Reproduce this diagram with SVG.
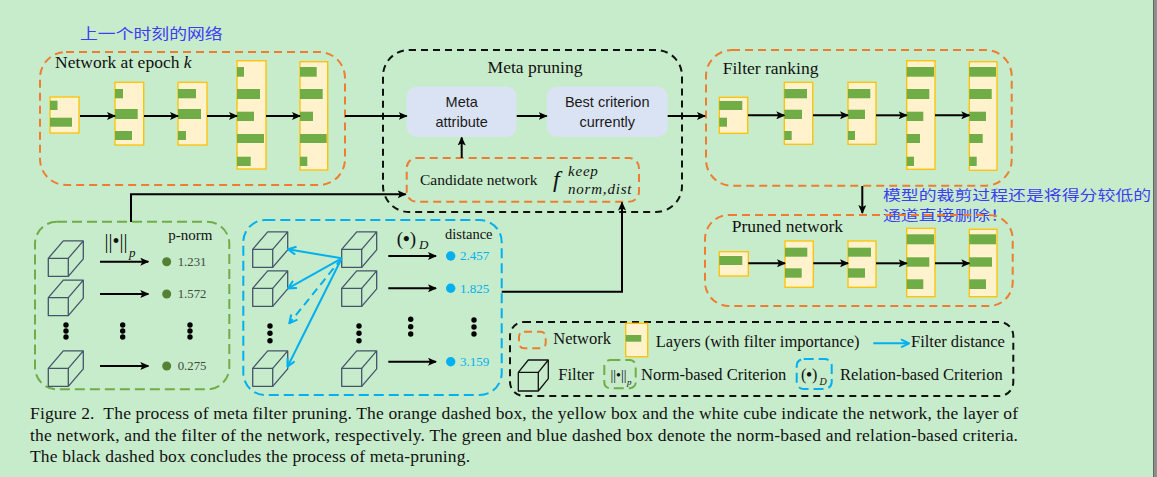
<svg xmlns="http://www.w3.org/2000/svg" xmlns:xlink="http://www.w3.org/1999/xlink" width="1157" height="477" viewBox="0 0 1157 477">
<style>
.orng{fill:none;stroke:#ED7D31;stroke-width:2;stroke-dasharray:8 5}
.blk{fill:none;stroke:#111;stroke-width:2;stroke-dasharray:7 5}
.grn{fill:none;stroke:#70AD47;stroke-width:2;stroke-dasharray:10 5}
.blu{fill:none;stroke:#00B0F0;stroke-width:2;stroke-dasharray:10 5}
.layer{fill:#FFF2CC;stroke:#FFC000;stroke-width:1.3}
.bar{fill:#70AD47}
.arr{fill:none;stroke:#000;stroke-width:2;marker-end:url(#ah)}
.barr{fill:none;stroke:#00B0F0;stroke-width:2;marker-end:url(#bh)}
.cube{fill:none;stroke:#44546A;stroke-width:1.3;stroke-linejoin:round}
.meta{fill:#DAE3F3}
.t{font-family:"Liberation Serif","Times New Roman",serif;fill:#111}
.s{font-family:"Liberation Sans",Arial,sans-serif;fill:#1a1a1a;text-anchor:middle;font-size:14.5px}
.cn{font-family:"Noto Sans CJK SC",sans-serif;fill:#3D3DF2;font-size:14.5px}
.gv{font-family:"Liberation Serif",serif;fill:#3F4A3F;font-size:12.8px}
.bv{font-family:"Liberation Serif",serif;fill:#00B0F0;font-size:13px}
.dot{fill:#000}
</style>
<defs>
<marker id="ah" markerUnits="userSpaceOnUse" markerWidth="9" markerHeight="8" refX="8" refY="4" orient="auto">
<path d="M0,0 L9,4 L0,8 L2,4 z" fill="#000"/>
</marker>
<marker id="bh" markerUnits="userSpaceOnUse" markerWidth="10" markerHeight="10" refX="9" refY="5" orient="auto">
<path d="M1,1 L9,5 L1,9" fill="none" stroke="#00B0F0" stroke-width="2"/>
</marker>
<g id="cube" class="cube">
<rect x="0" y="0" width="20" height="18"/>
<path d="M0,0 L15,-17.5 L35,-17.5 L20,0 M35,-17.5 L35,0.5 L20,18"/>
</g>
</defs>
<rect width="1157" height="477" fill="#C7ECCB"/>
<rect x="1153" y="0" width="4" height="477" fill="#8F8F8F"/>
<line x1="1153.5" y1="0" x2="1153.5" y2="477" stroke="#666" stroke-width="1"/>

<text class="cn" x="80" y="39" textLength="142.7" lengthAdjust="spacingAndGlyphs">上一个时刻的网络</text>

<g id="network-epoch-k">
<rect class="orng" x="40" y="52" width="305" height="133" rx="26"/>
<text class="t" x="55" y="68" font-size="17.5">Network at epoch <tspan font-style="italic">k</tspan></text>
<rect class="layer" x="50" y="97" width="29" height="36"/>
<rect class="bar" x="50" y="100.7" width="7.5" height="9.3"/>
<rect class="bar" x="50" y="117.7" width="22" height="9"/>
<rect class="layer" x="115" y="82.3" width="28.7" height="62.7"/>
<rect class="bar" x="115" y="89" width="8" height="9.3"/>
<rect class="bar" x="115" y="109" width="22.7" height="10"/>
<rect class="bar" x="115" y="131" width="17" height="9"/>
<rect class="layer" x="178" y="82.3" width="29" height="62.7"/>
<rect class="bar" x="178" y="89" width="18" height="9.3"/>
<rect class="bar" x="178" y="109" width="23" height="10"/>
<rect class="bar" x="178" y="131" width="8" height="9"/>
<rect class="layer" x="237" y="60.7" width="29" height="108.3"/>
<rect class="bar" x="237" y="67" width="7" height="9.7"/>
<rect class="bar" x="237" y="89" width="23" height="10"/>
<rect class="bar" x="237" y="111.7" width="17" height="9.3"/>
<rect class="bar" x="237" y="134" width="27" height="9"/>
<rect class="bar" x="237" y="156.7" width="13.7" height="9.3"/>
<rect class="layer" x="300" y="61.7" width="27.7" height="108.3"/>
<rect class="bar" x="300" y="67" width="16.7" height="9.7"/>
<rect class="bar" x="300" y="89" width="22.7" height="10"/>
<rect class="bar" x="300" y="111.7" width="13" height="9.3"/>
<rect class="bar" x="300" y="134" width="26.7" height="9"/>
<rect class="bar" x="300" y="156.7" width="7.3" height="9.3"/>
<line class="arr" x1="80" y1="116" x2="115" y2="116"/>
<line class="arr" x1="144" y1="116" x2="178" y2="116"/>
<line class="arr" x1="207" y1="116" x2="237" y2="116"/>
<line class="arr" x1="266" y1="116" x2="300" y2="116"/>
</g>

<g id="meta-pruning">
<rect class="blk" x="383" y="50" width="299" height="162" rx="26"/>
<text class="t" x="535" y="73" font-size="17.5" text-anchor="middle">Meta pruning</text>
</g>
<g id="meta-attribute">
<rect class="meta" x="406.7" y="86.7" width="110" height="50" rx="10"/>
<text class="s" x="461.7" y="107">Meta</text>
<text class="s" x="461.7" y="126.5">attribute</text>
</g>
<g id="best-criterion">
<rect class="meta" x="546.7" y="86.7" width="121" height="50" rx="10"/>
<text class="s" x="607.2" y="107">Best criterion</text>
<text class="s" x="607.2" y="126.5">currently</text>
</g>
<g id="candidate-network">
<rect class="orng" x="406.7" y="158" width="232.3" height="43.7" rx="10"/>
<text class="t" x="420" y="185" font-size="15.5">Candidate network</text>
<text class="t" x="553" y="187" font-size="24" font-style="italic">f</text>
<text class="t" x="568" y="176" font-size="15" font-style="italic" letter-spacing="0.8">keep</text>
<text class="t" x="568" y="194" font-size="15" font-style="italic" letter-spacing="0.8">norm,dist</text>
</g>

<g id="filter-ranking">
<rect class="orng" x="706" y="50" width="305.7" height="135.7" rx="26"/>
<text class="t" x="722.7" y="74.3" font-size="17.5">Filter ranking</text>
<rect class="layer" x="719.3" y="97.3" width="28.4" height="36"/>
<rect class="bar" x="719.3" y="101" width="23" height="9"/>
<rect class="bar" x="719.3" y="117.7" width="7.7" height="9"/>
<rect class="layer" x="784.3" y="82.3" width="28.4" height="62"/>
<rect class="bar" x="784.3" y="89" width="22.7" height="9.3"/>
<rect class="bar" x="784.3" y="109.7" width="17.7" height="9.3"/>
<rect class="bar" x="784.3" y="131" width="7.4" height="9"/>
<rect class="layer" x="848" y="82.3" width="28" height="62"/>
<rect class="bar" x="848" y="89" width="22.3" height="9.3"/>
<rect class="bar" x="848" y="109.7" width="17" height="9.3"/>
<rect class="bar" x="848" y="131" width="7" height="9"/>
<rect class="layer" x="906.7" y="60.7" width="28.3" height="108.6"/>
<rect class="bar" x="906.7" y="67" width="27.3" height="9.7"/>
<rect class="bar" x="906.7" y="89" width="22.6" height="10"/>
<rect class="bar" x="906.7" y="111.7" width="16.6" height="9.3"/>
<rect class="bar" x="906.7" y="134" width="13.3" height="9"/>
<rect class="bar" x="906.7" y="156.7" width="7.3" height="9.3"/>
<rect class="layer" x="969.3" y="61.7" width="27.7" height="108.6"/>
<rect class="bar" x="969.3" y="67" width="26.7" height="9.7"/>
<rect class="bar" x="969.3" y="89" width="22.4" height="10"/>
<rect class="bar" x="969.3" y="111.7" width="16.7" height="9.3"/>
<rect class="bar" x="969.3" y="134" width="13.4" height="9"/>
<rect class="bar" x="969.3" y="156.7" width="7.4" height="9.3"/>
<line class="arr" x1="748" y1="115.3" x2="784.3" y2="115.3"/>
<line class="arr" x1="813" y1="115.3" x2="848" y2="115.3"/>
<line class="arr" x1="876" y1="115.3" x2="906.7" y2="115.3"/>
<line class="arr" x1="935" y1="115.3" x2="969.3" y2="115.3"/>
</g>

<text class="cn" x="883" y="199.8" font-size="14" style="font-size:14px" textLength="268" lengthAdjust="spacingAndGlyphs">模型的裁剪过程还是将得分较低的</text>
<text class="cn" x="883" y="220.3" font-size="14" style="font-size:14px" textLength="125" lengthAdjust="spacingAndGlyphs">通道直接删除！</text>

<g id="pruned-network">
<rect class="orng" x="705" y="215" width="307.7" height="91" rx="24"/>
<text class="t" x="731.7" y="231.7" font-size="17.5">Pruned network</text>
<rect class="layer" x="719.3" y="251.7" width="29" height="24.3"/>
<rect class="bar" x="719.3" y="256" width="23" height="9"/>
<rect class="layer" x="785" y="241" width="28.3" height="46.3"/>
<rect class="bar" x="785" y="247.7" width="22.3" height="9"/>
<rect class="bar" x="785" y="268.3" width="16.7" height="9.4"/>
<rect class="layer" x="848" y="241" width="28" height="46.3"/>
<rect class="bar" x="848" y="247.7" width="23" height="9"/>
<rect class="bar" x="848" y="268.3" width="17" height="9.4"/>
<rect class="layer" x="906.7" y="228.3" width="28.3" height="68.4"/>
<rect class="bar" x="906.7" y="234.3" width="27.3" height="10"/>
<rect class="bar" x="906.7" y="257.3" width="22.6" height="9.4"/>
<rect class="bar" x="906.7" y="279.3" width="16.6" height="9.7"/>
<rect class="layer" x="969.3" y="229.3" width="27.7" height="67.4"/>
<rect class="bar" x="969.3" y="234.3" width="26.7" height="10"/>
<rect class="bar" x="969.3" y="257.3" width="22.7" height="9.4"/>
<rect class="bar" x="969.3" y="279.3" width="16.7" height="9.7"/>
<line class="arr" x1="748.3" y1="263.3" x2="785" y2="263.3"/>
<line class="arr" x1="813.3" y1="263.3" x2="848" y2="263.3"/>
<line class="arr" x1="876" y1="263.3" x2="906.7" y2="263.3"/>
<line class="arr" x1="935" y1="263.3" x2="969.3" y2="263.3"/>
</g>

<g id="norm-criterion">
<rect class="grn" x="35" y="221.7" width="194.3" height="167.6" rx="22"/>
<use xlink:href="#cube" href="#cube" x="48.3" y="258.3"/>
<use xlink:href="#cube" href="#cube" x="48.3" y="297.7"/>
<use xlink:href="#cube" href="#cube" x="48.3" y="368.3"/>
<text class="t" x="104.5" y="247.5" font-size="20">||•||</text>
<text class="t" x="129" y="257" font-size="13" font-style="italic">p</text>
<text class="t" x="168.3" y="240" font-size="15">p-norm</text>
<line class="arr" x1="100" y1="261.7" x2="148.3" y2="261.7"/>
<line class="arr" x1="100" y1="294" x2="148.3" y2="294"/>
<line class="arr" x1="100" y1="366" x2="148.3" y2="366"/>
<circle cx="166.7" cy="261.7" r="4.5" fill="#548235"/>
<circle cx="166.7" cy="294" r="4.5" fill="#548235"/>
<circle cx="166.7" cy="366" r="4.5" fill="#548235"/>
<text class="gv" x="177.7" y="266">1.231</text>
<text class="gv" x="177.7" y="298.3">1.572</text>
<text class="gv" x="177.7" y="370.3">0.275</text>
<circle class="dot" cx="66" cy="325" r="2.7"/><circle class="dot" cx="66" cy="331" r="2.7"/><circle class="dot" cx="66" cy="337" r="2.7"/>
<circle class="dot" cx="122.7" cy="325" r="2.7"/><circle class="dot" cx="122.7" cy="331" r="2.7"/><circle class="dot" cx="122.7" cy="337" r="2.7"/>
<circle class="dot" cx="190" cy="325" r="2.7"/><circle class="dot" cx="190" cy="331" r="2.7"/><circle class="dot" cx="190" cy="337" r="2.7"/>
</g>

<g id="relation-criterion">
<rect class="blu" x="243.3" y="220" width="258.4" height="175" rx="22"/>
<use xlink:href="#cube" href="#cube" x="252.7" y="249.3"/>
<use xlink:href="#cube" href="#cube" x="252.7" y="288.3"/>
<use xlink:href="#cube" href="#cube" x="252.7" y="368.3"/>
<use xlink:href="#cube" href="#cube" x="341.7" y="249.3"/>
<use xlink:href="#cube" href="#cube" x="341.7" y="288.3"/>
<use xlink:href="#cube" href="#cube" x="341.7" y="368.3"/>
<text class="t" x="396.7" y="245" font-size="19">(<tspan font-weight="bold">•</tspan>)</text>
<text class="t" x="419" y="249" font-size="13" font-style="italic">D</text>
<text class="t" x="445" y="239.3" font-size="14.5">distance</text>
<line class="arr" x1="388.3" y1="256" x2="436" y2="256"/>
<line class="arr" x1="388.3" y1="288.3" x2="436" y2="288.3"/>
<line class="arr" x1="388.3" y1="361.7" x2="436" y2="361.7"/>
<circle cx="450.7" cy="256" r="4.7" fill="#00B0F0"/>
<circle cx="450.7" cy="288.3" r="4.7" fill="#00B0F0"/>
<circle cx="450.7" cy="361.7" r="4.7" fill="#00B0F0"/>
<text class="bv" x="460" y="260.3">2.457</text>
<text class="bv" x="460" y="292.6">1.825</text>
<text class="bv" x="460" y="366">3.159</text>
<circle class="dot" cx="270" cy="326" r="2.7"/><circle class="dot" cx="270" cy="333.3" r="2.7"/><circle class="dot" cx="270" cy="340.7" r="2.7"/>
<circle class="dot" cx="359" cy="326" r="2.7"/><circle class="dot" cx="359" cy="333.3" r="2.7"/><circle class="dot" cx="359" cy="340.7" r="2.7"/>
<circle class="dot" cx="410.7" cy="319.3" r="2.7"/><circle class="dot" cx="410.7" cy="326.7" r="2.7"/><circle class="dot" cx="410.7" cy="334" r="2.7"/>
<circle class="dot" cx="474" cy="320" r="2.7"/><circle class="dot" cx="474" cy="327" r="2.7"/><circle class="dot" cx="474" cy="334" r="2.7"/>
</g>

<g id="connectors">
<line class="arr" x1="345" y1="116" x2="406.7" y2="116"/>
<line class="arr" x1="516.7" y1="116" x2="546.7" y2="116"/>
<line class="arr" x1="667.7" y1="116" x2="705" y2="116"/>
<line class="arr" x1="461.7" y1="158" x2="461.7" y2="137.5"/>
<polyline class="arr" points="131,222 131,194.3 405.7,194.3"/>
<polyline class="arr" points="501.7,291.7 622,291.7 622,202.5"/>
<line class="arr" x1="862.3" y1="186" x2="862.3" y2="213"/>
<line class="barr" x1="341.7" y1="258.3" x2="288" y2="249.3"/>
<line class="barr" x1="341.7" y1="258.3" x2="288" y2="288.3"/>
<line class="barr" x1="341.7" y1="258.3" x2="289.3" y2="323.3" stroke-dasharray="8 5"/>
<line class="barr" x1="341.7" y1="258.3" x2="287.5" y2="366.7"/>
</g>

<g id="legend">
<rect class="blk" x="510" y="322" width="503.3" height="74" rx="14"/>
<rect class="orng" x="519" y="331.7" width="26.7" height="16.6" rx="5"/>
<text class="t" x="553.3" y="344.3" font-size="16.5">Network</text>
<rect class="layer" x="625.7" y="323.3" width="22" height="33.4"/>
<rect class="bar" x="625.7" y="335" width="15.6" height="6.7"/>
<text class="t" x="655.7" y="346.7" font-size="16.5">Layers (with filter importance)</text>
<line class="barr" x1="873.3" y1="343.3" x2="909" y2="343.3"/>
<text class="t" x="911" y="346.7" font-size="16.5">Filter distance</text>
<path d="M518.3,372.3 h20 v18.7 h-20 z M518.3,372.3 L528.3,360 H548.3 L538.3,372.3 M548.3,360 V378.7 L538.3,391" fill="none" stroke="#111" stroke-width="1.3" stroke-linejoin="round"/>
<text class="t" x="558.3" y="380" font-size="16.5">Filter</text>
<rect class="grn" x="604.3" y="360" width="31.4" height="28.3" rx="6" stroke-dasharray="6 4"/>
<text class="t" x="610.5" y="380" font-size="14">||•||</text>
<text class="t" x="627" y="384.5" font-size="9" font-style="italic">p</text>
<text class="t" x="641" y="380" font-size="16.5">Norm-based Criterion</text>
<rect class="blu" x="796.7" y="359" width="35" height="30" rx="7" stroke-dasharray="6 4"/>
<text class="t" x="801" y="380" font-size="16">(<tspan font-weight="bold">•</tspan>)</text>
<text class="t" x="819.5" y="384.5" font-size="10" font-style="italic">D</text>
<text class="t" x="840" y="380" font-size="16.5">Relation-based Criterion</text>
</g>

<g id="caption">
<text class="t" x="30" y="418.5" font-size="17.5" textLength="988">Figure 2.&#160; The process of meta filter pruning. The orange dashed box, the yellow box and the white cube indicate the network, the layer of</text>
<text class="t" x="30" y="440.5" font-size="17.5" textLength="988">the network, and the filter of the network, respectively. The green and blue dashed box denote the norm-based and relation-based criteria.</text>
<text class="t" x="30" y="462" font-size="17.5" textLength="440">The black dashed box concludes the process of meta-pruning.</text>
</g>
</svg>
